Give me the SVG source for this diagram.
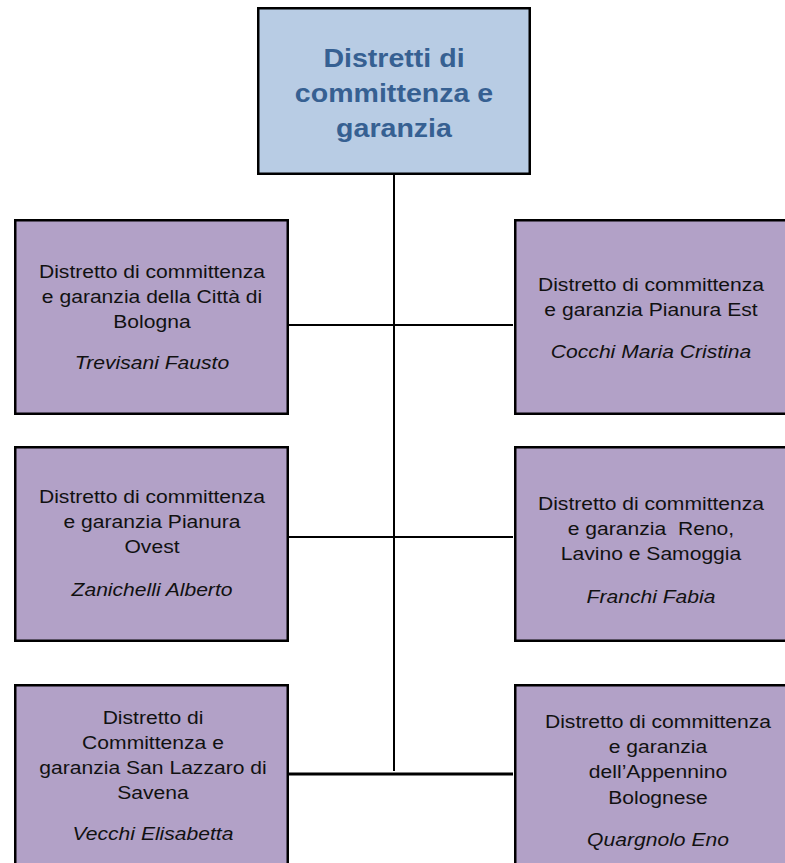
<svg xmlns="http://www.w3.org/2000/svg" width="785" height="863" viewBox="0 0 785 863">
<style>
.box{fill:#b2a1c7;stroke:#000;stroke-width:2.5}
.top{fill:#b8cce4;stroke:#000;stroke-width:2.5}
.t{font-family:"Liberation Sans",Arial,sans-serif;font-size:18.5px;fill:#111;text-anchor:middle}
.i{font-style:italic}
.title{font-family:"Liberation Sans",Arial,sans-serif;font-size:25.5px;font-weight:bold;fill:#366092;text-anchor:middle}
.ln{stroke:#000;stroke-width:2;fill:none}
.thick{stroke-width:3}
</style>
<rect width="785" height="863" fill="#fff"/>
<g id="connectors">
<line class="ln" x1="394" y1="174" x2="394" y2="771"/>
<line class="ln" x1="288" y1="325" x2="513" y2="325"/>
<line class="ln" x1="288" y1="537" x2="513" y2="537"/>
<line class="ln thick" x1="288" y1="774" x2="513" y2="774"/>
</g>
<g id="root">
<rect class="top" x="258.25" y="8.25" width="271.5" height="165.5"/>
<g transform="translate(394 0) scale(1.12 1)">
<text class="title" x="0" y="67">Distretti di</text>
<text class="title" x="0" y="102">committenza e</text>
<text class="title" x="0" y="137">garanzia</text>
</g>
</g>
<g id="bologna">
<rect class="box" x="15.25" y="220.25" width="272.5" height="193.5"/>
<g transform="translate(152 0) scale(1.14 1)">
<text class="t" x="0" y="278">Distretto di committenza</text>
<text class="t" x="0" y="303">e garanzia della Città di</text>
<text class="t" x="0" y="328">Bologna</text>
<text class="t i" x="0" y="369">Trevisani Fausto</text>
</g>
</g>
<g id="pianura-est">
<rect class="box" x="515.25" y="220.25" width="280" height="193.5"/>
<g transform="translate(651 0) scale(1.14 1)">
<text class="t" x="0" y="291">Distretto di committenza</text>
<text class="t" x="0" y="316">e garanzia Pianura Est</text>
<text class="t i" x="0" y="358">Cocchi Maria Cristina</text>
</g>
</g>
<g id="pianura-ovest">
<rect class="box" x="15.25" y="447.25" width="272.5" height="193.5"/>
<g transform="translate(152 0) scale(1.14 1)">
<text class="t" x="0" y="503">Distretto di committenza</text>
<text class="t" x="0" y="528">e garanzia Pianura</text>
<text class="t" x="0" y="553">Ovest</text>
<text class="t i" x="0" y="596">Zanichelli Alberto</text>
</g>
</g>
<g id="reno">
<rect class="box" x="515.25" y="447.25" width="280" height="193.5"/>
<g transform="translate(651 0) scale(1.14 1)">
<text class="t" x="0" y="510">Distretto di committenza</text>
<text class="t" x="0" y="535">e garanzia&#160; Reno,</text>
<text class="t" x="0" y="560">Lavino e Samoggia</text>
<text class="t i" x="0" y="603">Franchi Fabia</text>
</g>
</g>
<g id="san-lazzaro">
<rect class="box" x="15.25" y="685.25" width="272.5" height="200"/>
<g transform="translate(153 0) scale(1.14 1)">
<text class="t" x="0" y="724">Distretto di</text>
<text class="t" x="0" y="749">Committenza e</text>
<text class="t" x="0" y="774">garanzia San Lazzaro di</text>
<text class="t" x="0" y="799">Savena</text>
<text class="t i" x="0" y="840">Vecchi Elisabetta</text>
</g>
</g>
<g id="appennino">
<rect class="box" x="515.25" y="685.25" width="280" height="200"/>
<g transform="translate(658 0) scale(1.14 1)">
<text class="t" x="0" y="728">Distretto di committenza</text>
<text class="t" x="0" y="753">e garanzia</text>
<text class="t" x="0" y="778">dell’Appennino</text>
<text class="t" x="0" y="804">Bolognese</text>
<text class="t i" x="0" y="846">Quargnolo Eno</text>
</g>
</g>
</svg>
